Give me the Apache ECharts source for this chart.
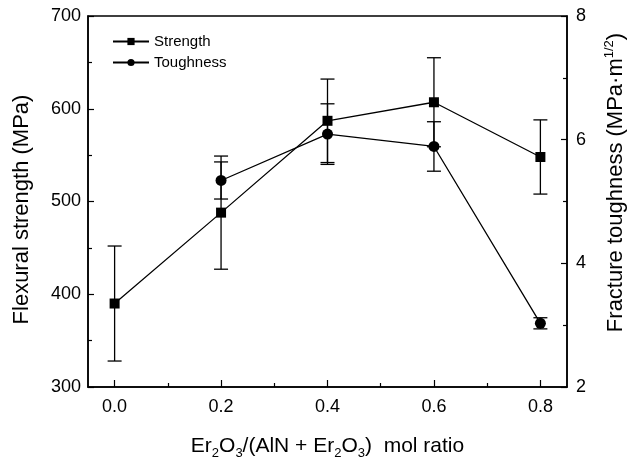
<!DOCTYPE html>
<html>
<head>
<meta charset="utf-8">
<script src="https://cdn.jsdelivr.net/npm/echarts@6/dist/echarts.min.js"></script>
<style>
  html, body { margin: 0; padding: 0; background: #fff; }
  #main { width: 635px; height: 465px; }
</style>
</head>
<body>
<div id="main"></div>
<script>
// 数据
var ratio = [0.0, 0.2, 0.4, 0.6, 0.8];
var strength = [390, 488, 587, 607, 548];
var strengthErr = [62, 61, 45, 48, 40];
var toughRatio = [0.2, 0.4, 0.6, 0.8];
var toughness = [5.34, 6.09, 5.89, 3.03];
var toughErr = [0.30, 0.49, 0.40, 0.09];
var xLabels = [0.0, 0.2, 0.4, 0.6, 0.8];
var xMinor = [0.1, 0.3, 0.5, 0.7];

var FONT = 'Arial, "Liberation Sans", sans-serif';

function pairs(xs, ys) {
    return xs.map(function (x, i) { return [x, ys[i]]; });
}
function errData(xs, ys, es) {
    return xs.map(function (x, i) { return [x, ys[i] - es[i], ys[i] + es[i]]; });
}
// 误差棒
function errorRender(params, api) {
    var x = api.value(0);
    var lo = api.coord([x, api.value(1)]);
    var hi = api.coord([x, api.value(2)]);
    var w = 7;
    var st = { stroke: '#000', lineWidth: 1.3 };
    return {
        type: 'group',
        children: [
            { type: 'line', shape: { x1: lo[0], y1: lo[1], x2: hi[0], y2: hi[1] }, style: st },
            { type: 'line', shape: { x1: lo[0] - w, y1: lo[1], x2: lo[0] + w, y2: lo[1] }, style: st },
            { type: 'line', shape: { x1: hi[0] - w, y1: hi[1], x2: hi[0] + w, y2: hi[1] }, style: st }
        ]
    };
}

var myChart = echarts.init(document.getElementById('main'));
var option = {
    backgroundColor: '#fff',
    animation: false,
    textStyle: { fontFamily: FONT, color: '#000' },
    grid: {
        left: 88, right: 63, top: 16, bottom: 77,
        show: true, borderColor: '#000', borderWidth: 1.5
    },
    legend: {
        orient: 'vertical',
        left: 107, top: 29,
        itemWidth: 36, itemHeight: 9, itemGap: 6,
        data: ['Strength', 'Toughness'],
        textStyle: { fontFamily: FONT, fontSize: 15, color: '#000' }
    },
    xAxis: [{
        type: 'value',
        min: -0.05, max: 0.85,
        splitLine: { show: false },
        axisLine: { onZero: false, lineStyle: { color: '#000', width: 1.5 } },
        axisTick: { inside: true, length: 7, customValues: xLabels, lineStyle: { color: '#000', width: 1.2 } },
        axisLabel: {
            customValues: xLabels, fontSize: 18, color: '#000', margin: 11,
            formatter: function (v) { return v.toFixed(1); }
        },
        name: '{n|Er}{s|2}{n|O}{s|3}{n|/(AlN + Er}{s|2}{n|O}{s|3}{n|)  mol ratio}',
        nameLocation: 'middle',
        nameGap: 46,
        nameTextStyle: {
            rich: {
                n: { fontFamily: FONT, fontSize: 21, lineHeight: 27, color: '#000' },
                s: { fontFamily: FONT, fontSize: 13, lineHeight: 13, verticalAlign: 'bottom', color: '#000' }
            }
        }
    }, {
        type: 'value',
        position: 'bottom',
        min: -0.05, max: 0.85,
        splitLine: { show: false },
        axisLine: { show: false, onZero: false },
        axisTick: { inside: true, length: 4, customValues: xMinor, lineStyle: { color: '#000', width: 1.2 } },
        axisLabel: { show: false }
    }],
    yAxis: [{
        type: 'value',
        min: 300, max: 700, interval: 100,
        splitLine: { show: false },
        axisLine: { show: true, onZero: false, lineStyle: { color: '#000', width: 1.5 } },
        axisTick: { show: true, inside: true, length: 6, lineStyle: { color: '#000', width: 1.2 } },
        minorTick: { show: true, splitNumber: 2, length: 4, lineStyle: { color: '#000', width: 1.2 } },
        axisLabel: { fontSize: 18, color: '#000', margin: 7 },
        name: 'Flexural strength (MPa)',
        nameLocation: 'middle',
        nameRotate: 90,
        nameGap: 55,
        nameTextStyle: { fontFamily: FONT, fontSize: 22, color: '#000', padding: [0, 16, 0, 0] }
    }, {
        type: 'value',
        position: 'right',
        min: 2, max: 8, interval: 2,
        splitLine: { show: false },
        axisLine: { show: true, onZero: false, lineStyle: { color: '#000', width: 1.5 } },
        axisTick: { show: true, inside: true, length: 6, lineStyle: { color: '#000', width: 1.2 } },
        minorTick: { show: true, splitNumber: 2, length: 4, lineStyle: { color: '#000', width: 1.2 } },
        axisLabel: { fontSize: 18, color: '#000', margin: 9 },
        name: '{n|Fracture toughness (MPa·m}{p|1/2}{n|)}',
        nameLocation: 'middle',
        nameRotate: 90,
        nameGap: 36,
        nameTextStyle: {
            padding: [0, 0, 0, 38],
            rich: {
                n: { fontFamily: FONT, fontSize: 22, lineHeight: 26, color: '#000' },
                p: { fontFamily: FONT, fontSize: 13, lineHeight: 13, verticalAlign: 'top', color: '#000' }
            }
        }
    }],
    series: [{
        name: 'Strength',
        type: 'line',
        yAxisIndex: 0,
        data: pairs(ratio, strength),
        symbol: 'rect',
        symbolSize: 10,
        itemStyle: { color: '#000' },
        lineStyle: { color: '#000', width: 1.3 },
        z: 3
    }, {
        name: 'Toughness',
        type: 'line',
        yAxisIndex: 1,
        data: pairs(toughRatio, toughness),
        symbol: 'circle',
        symbolSize: 11,
        itemStyle: { color: '#000' },
        lineStyle: { color: '#000', width: 1.3 },
        z: 3
    }, {
        name: 'strengthErr',
        type: 'custom',
        yAxisIndex: 0,
        renderItem: errorRender,
        data: errData(ratio, strength, strengthErr),
        encode: { x: 0, y: [1, 2] },
        z: 2
    }, {
        name: 'toughErr',
        type: 'custom',
        yAxisIndex: 1,
        renderItem: errorRender,
        data: errData(toughRatio, toughness, toughErr),
        encode: { x: 0, y: [1, 2] },
        z: 2
    }]
};
myChart.setOption(option);
</script>
</body>
</html>
